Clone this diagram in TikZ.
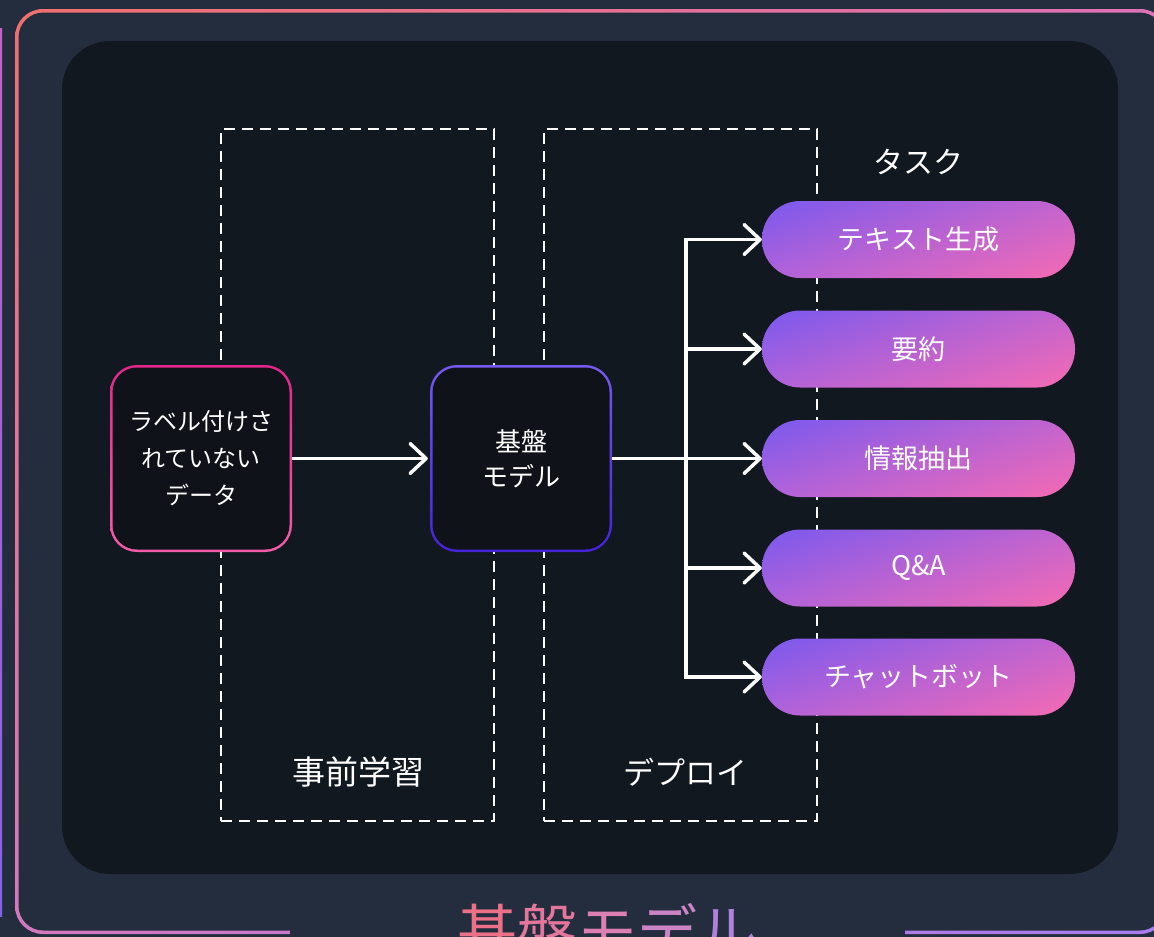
\documentclass[tikz,border=0pt]{standalone}
\usepackage{fontspec}
\setmainfont{Noto Sans CJK JP}
\usetikzlibrary{arrows.meta,shadings}

\definecolor{bg}{HTML}{232D3D}
\definecolor{panel}{HTML}{111820}
\definecolor{boxfill}{HTML}{0F1319}
\definecolor{oUL}{HTML}{F0706E}
\definecolor{oUR}{HTML}{DC72B8}
\definecolor{oLL}{HTML}{D478BE}
\definecolor{oLR}{HTML}{A57CF0}
\definecolor{stripT}{HTML}{C262C6}
\definecolor{stripB}{HTML}{8462E8}
\definecolor{aTop}{HTML}{E5258C}
\definecolor{aBot}{HTML}{F25CAA}
\definecolor{bTop}{HTML}{7659EF}
\definecolor{bBot}{HTML}{4422D8}
\definecolor{pUL}{HTML}{7A59EE}
\definecolor{pUR}{HTML}{C464CE}
\definecolor{pLL}{HTML}{B062DA}
\definecolor{pLR}{HTML}{F56AB2}
\definecolor{t1}{HTML}{EC7088}
\definecolor{t2}{HTML}{E4769C}
\definecolor{t3}{HTML}{DC80B4}
\definecolor{t4}{HTML}{CC84C6}
\definecolor{t5}{HTML}{B080DC}

\begin{document}
\begin{tikzpicture}[x=1pt,y=-1pt,
  pill/.style={shade, upper left=pUL, upper right=pUR, lower left=pLL, lower right=pLR,
    rounded corners=38pt, minimum width=313pt, minimum height=77pt, inner sep=0pt,
    text=white, font=\fontsize{27}{32}\selectfont},
  boxborder/.style={shade, top color=#1Top, bottom color=#1Bot, rounded corners=27pt,
    minimum width=182pt, minimum height=187pt, inner sep=0pt},
  boxin/.style={fill=boxfill, rounded corners=24.5pt, minimum width=177pt,
    minimum height=182pt, inner sep=0pt, text=white, align=center},
  dashbox/.style={draw=white, line width=2pt, dash pattern=on 11pt off 7pt,
    minimum width=273pt, minimum height=692pt, inner sep=0pt},
  lbl/.style={text=white, inner sep=0pt, font=\fontsize{33}{38}\selectfont},
  conn/.style={draw=white, line width=3.5pt},
  arr/.style={conn, -{Straight Barb[length=16pt,width=30pt,round]}}
]
\path[use as bounding box] (0,0) rectangle (1154,937);
\clip (0,0) rectangle (1154,937);
\fill[bg] (0,0) rectangle (1154,937);

% neighbouring frame edge
\shade[top color=stripT, bottom color=stripB] (0,28) rectangle (2,916);

% outer gradient frame
\shade[upper left=oUL, upper right=oUR, lower left=oLL, lower right=oLR, rounded corners=28pt]
  (15,9) rectangle (1168,934);
\fill[bg, rounded corners=25pt] (18.5,12.5) rectangle (1164.5,930.5);
\fill[bg] (290,924) rectangle (905,940);
\node[anchor=north, inner sep=0pt, font=\fontsize{60}{60}\selectfont] (title) at (607,903)
  {\textcolor{t1}{基}\textcolor{t2}{盤}\textcolor{t3}{モ}\textcolor{t4}{デ}\textcolor{t5}{ル}};

% inner panel
\fill[panel, rounded corners=48pt] (62,41) rectangle (1118,874);

% phases
\node[dashbox] (pre) at (357.5,475) {};
\node[dashbox] (dep) at (680.5,475) {};
\node[lbl] (prel) at (358,772) {事前学習};
\node[lbl, font=\fontsize{31}{36}\selectfont] (depl) at (685,772) {デプロイ};
\node[lbl, font=\fontsize{30}{36}\selectfont] (task) at (918,162) {タスク};

% boxes
\node[boxborder=a] (a) at (201,458.5) {};
\node[boxin, font=\fontsize{24}{37}\selectfont] (atext) at (a.center) {ラベル付けさ\\れていない\\データ};
\node[boxborder=b] (b) at (521,458.5) {};
\node[boxin, font=\fontsize{26}{35}\selectfont] (btext) at (b.center) {基盤\\モデル};

% tasks
\node[pill] (k1) at (918.5,239.5) {テキスト生成};
\node[pill] (k2) at (918.5,349) {要約};
\node[pill] (k3) at (918.5,458.5) {情報抽出};
\node[pill] (k4) at (918.5,568) {Q\&A};
\node[pill] (k5) at (918.5,677) {チャットボット};

% connectors
\draw[arr, shorten >=2pt] (a.east) -- (b.west);
\coordinate (hub) at (686,458.5);
\draw[conn] (b.east) -- (hub);
\foreach \k in {k1,k2,k3,k4,k5}
  \draw[arr] (hub) |- (\k.west);
\end{tikzpicture}
\end{document}
